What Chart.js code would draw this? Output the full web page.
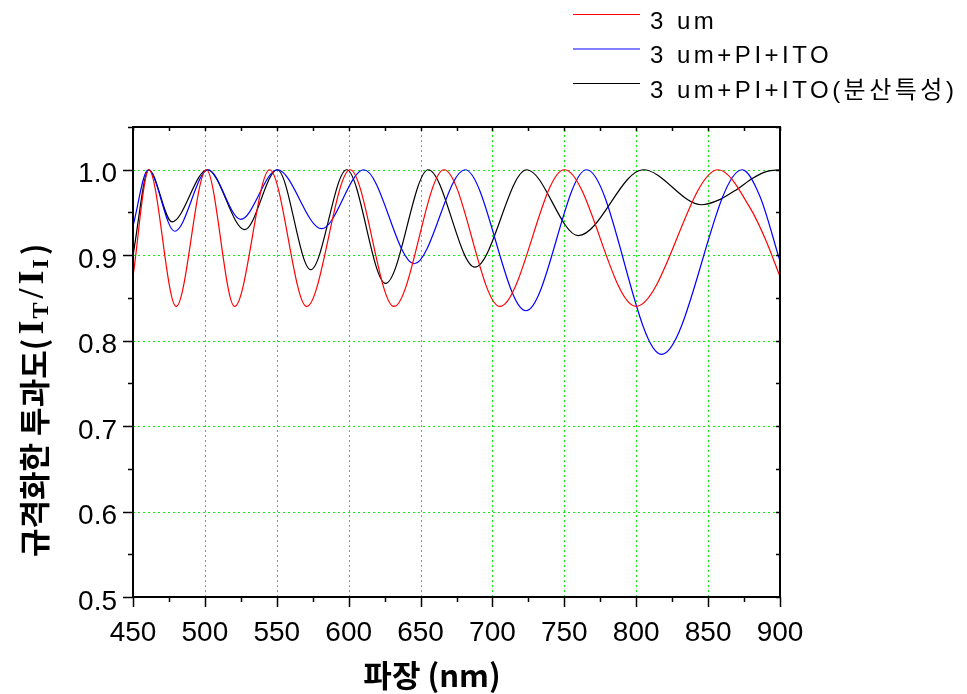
<!DOCTYPE html>
<html><head><meta charset="utf-8">
<script src="https://cdn.jsdelivr.net/npm/chart.js@4/dist/chart.umd.min.js"></script>
<style>html,body{margin:0;padding:0;background:#fff}#wrap{width:967px;height:694px}</style>
</head><body><div id="wrap"><canvas id="c" width="967" height="694"></canvas></div>
<script>
const seriesLabels = ['3 um', '3 um+PI+ITO', '3 um+PI+ITO(분산특성)'];
const seriesColors = ['#ff0000', '#0000ff', '#000000'];
const xTitle = '파장 (nm)';
const yTitleMain = '규격화한 투과도(';

const redWl = [450, 461, 480, 501, 520.7, 545, 570.8, 601, 631.5, 666.3, 705.2, 750, 799.8, 857, 880, 890, 900];
const redT  = [0.875, 1.0, 0.84, 1.0, 0.84, 1.0, 0.84, 1.0, 0.84, 1.0, 0.84, 1.0, 0.84, 1.0, 0.953, 0.918, 0.875];

const blueWl = [450, 460.5, 479, 502.2, 524.9, 550.4, 581.2, 610.6, 645.6, 680.9, 723.3, 765.5, 817.6, 873.7, 886, 900];
const blueT  = [0.934, 1.0, 0.928, 1.0, 0.942, 1.0, 0.931, 1.0, 0.890, 1.0, 0.835, 1.0, 0.784, 1.0, 0.969, 0.893];

const blackWl = [450, 461, 477.1, 501.7, 527.7, 550.4, 573.6, 598.6, 625.7, 655.4, 687.8, 723.8, 759.7, 804.9, 845.5, 858, 870, 881, 891, 900];
const blackT  = [0.90, 1.0, 0.939, 1.0, 0.930, 1.0, 0.883, 1.0, 0.867, 1.0, 0.886, 1.0, 0.923, 1.0, 0.959, 0.965, 0.977, 0.990, 0.998, 1.0];

const xMin = 450, xMax = 900, xStep = 50;
const yMin = 0.5, yMax = 1.05, yStep = 0.1;

const toPts = (xs, ys) => xs.map((x, i) => ({x: x, y: ys[i]}));

const minorOf = (maj, max) => {
  const out = [];
  for (let i = 0; i < maj.length - 1; i++) out.push((maj[i] + maj[i + 1]) / 2);
  const st = maj[1] - maj[0];
  const nx = maj[maj.length - 1] + st / 2;
  if (nx <= max + 1e-9) out.push(nx);
  return out;
};

const framePlugin = {
  id: 'frame',
  beforeDatasetsDraw(chart) {
    const ctx = chart.ctx, a = chart.chartArea;
    const xs = chart.scales.x, ys = chart.scales.y;
    ctx.save();
    ctx.strokeStyle = '#11ee11';
    ctx.lineWidth = 1;
    ctx.setLineDash([2, 3]);
    ctx.beginPath();
    xs.ticks.forEach(t => {
      if (t.value <= xs.min || t.value >= xs.max) return;
      const p = Math.round(xs.getPixelForValue(t.value)) + 0.5;
      ctx.moveTo(p, a.bottom); ctx.lineTo(p, a.top);
    });
    ys.ticks.forEach(t => {
      if (t.value <= ys.min + 1e-9 || t.value >= ys.max - 1e-9) return;
      const p = Math.round(ys.getPixelForValue(t.value)) + 0.5;
      ctx.moveTo(a.left, p); ctx.lineTo(a.right, p);
    });
    ctx.stroke();
    ctx.restore();
  },
  afterDatasetsDraw(chart) {
    const ctx = chart.ctx, a = chart.chartArea;
    const xs = chart.scales.x, ys = chart.scales.y;
    ctx.save();
    ctx.strokeStyle = '#000';
    ctx.lineWidth = 2;
    ctx.strokeRect(a.left, a.top, a.right - a.left, a.bottom - a.top);
    const xMaj = xs.ticks.map(t => t.value);
    const yMaj = ys.ticks.map(t => t.value);
    const xMin2 = minorOf(xMaj, xs.max), yMin2 = minorOf(yMaj, ys.max);
    ctx.lineWidth = 1.5;
    ctx.beginPath();
    xMaj.forEach(v => { const p = Math.round(xs.getPixelForValue(v)) + 0.5;
      ctx.moveTo(p, a.bottom); ctx.lineTo(p, a.bottom + 10);
      ctx.moveTo(p, a.top); ctx.lineTo(p, a.top + 4); });
    xMin2.forEach(v => { const p = Math.round(xs.getPixelForValue(v)) + 0.5;
      ctx.moveTo(p, a.bottom); ctx.lineTo(p, a.bottom + 5);
      ctx.moveTo(p, a.top); ctx.lineTo(p, a.top + 4); });
    yMaj.forEach(v => { const p = Math.round(ys.getPixelForValue(v)) + 0.5;
      ctx.moveTo(a.left, p); ctx.lineTo(a.left - 10, p);
      ctx.moveTo(a.right, p); ctx.lineTo(a.right - 4, p); });
    yMin2.forEach(v => { const p = Math.round(ys.getPixelForValue(v)) + 0.5;
      ctx.moveTo(a.left, p); ctx.lineTo(a.left - 5, p);
      ctx.moveTo(a.right, p); ctx.lineTo(a.right - 4, p); });
    ctx.stroke();
    ctx.restore();
  },
  afterDraw(chart) {
    const ctx = chart.ctx;
    ctx.save();
    ctx.fillStyle = '#000';
    // x title
    ctx.font = 'bold 31px "Noto Sans CJK KR"';
    ctx.textAlign = 'center';
    ctx.textBaseline = 'middle';
    ctx.fillText(xTitle, 432, 675);
    // y title (rotated)
    ctx.save();
    ctx.translate(34, 557);
    ctx.rotate(-Math.PI / 2);
    ctx.textAlign = 'left';
    ctx.textBaseline = 'middle';
    const parts = [
      {t: yTitleMain, f: 'bold 31px "Noto Sans CJK KR"', dy: 0, g: 4},
      {t: 'I', f: 'bold 36px "Liberation Serif"', dy: 0, g: 2},
      {t: 'T', f: 'bold 24px "Liberation Serif"', dy: 8, g: 4},
      {t: '/', f: 'bold 36px "Liberation Serif"', dy: 0, g: 4},
      {t: 'I', f: 'bold 36px "Liberation Serif"', dy: 0, g: 2},
      {t: 'I', f: 'bold 24px "Liberation Serif"', dy: 8, g: 4},
      {t: ')', f: 'bold 31px "Noto Sans CJK KR"', dy: 0, g: 0}
    ];
    let px = 0;
    parts.forEach(p => { ctx.font = p.f; ctx.fillText(p.t, px, p.dy); px += ctx.measureText(p.t).width + p.g; });
    ctx.restore();
    // legend
    chart.data.datasets.forEach((ds, i) => {
      const ly = 14 + i * 34.5;
      ctx.strokeStyle = ds.borderColor;
      ctx.lineWidth = 1.2;
      ctx.beginPath(); ctx.moveTo(573, ly + 0.5); ctx.lineTo(640, ly + 0.5); ctx.stroke();
      ctx.font = '24px "Liberation Sans", "Noto Sans CJK KR"';
      ctx.letterSpacing = '3.5px';
      ctx.textAlign = 'left';
      ctx.textBaseline = 'middle';
      ctx.fillText(ds.label, 650, ly + 8);
      ctx.letterSpacing = '0px';
    });
    ctx.restore();
  }
};

const mk = (i, xs, ys) => ({
  label: seriesLabels[i], data: toPts(xs, ys), borderColor: seriesColors[i],
  backgroundColor: seriesColors[i], borderWidth: 1.2, pointRadius: 0,
  cubicInterpolationMode: 'monotone', fill: false
});

new Chart(document.getElementById('c'), {
  type: 'line',
  data: { datasets: [mk(0, redWl, redT), mk(1, blueWl, blueT), mk(2, blackWl, blackT)] },
  options: {
    responsive: false, animation: false, devicePixelRatio: 1,
    layout: { padding: { left: 0, right: 187, top: 127, bottom: 0 } },
    plugins: { legend: { display: false }, tooltip: { enabled: false } },
    scales: {
      x: {
        type: 'linear', min: xMin, max: xMax,
        ticks: { stepSize: xStep, autoSkip: false, maxRotation: 0, padding: 19, color: '#000',
                 font: { family: '"Liberation Sans"', size: 28 } },
        grid: { display: false, drawTicks: false },
        border: { display: false },
        afterFit: s => { s.height = 97; }
      },
      y: {
        type: 'linear', min: yMin, max: yMax,
        ticks: { stepSize: yStep, includeBounds: false, padding: 16, labelOffset: 5, color: '#000',
                 font: { family: '"Liberation Sans"', size: 28 },
                 callback: v => Number(v).toFixed(1) },
        grid: { display: false, drawTicks: false },
        border: { display: false },
        afterFit: s => { s.width = 133; }
      }
    }
  },
  plugins: [framePlugin]
});
</script></body></html>
